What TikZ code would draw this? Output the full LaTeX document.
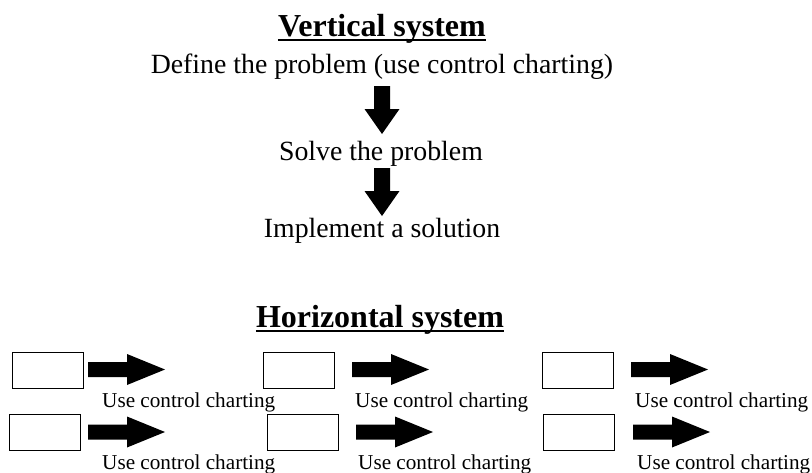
\documentclass[tikz,border=0pt]{standalone}
\usepackage{fontspec}
\setmainfont{Liberation Serif}
\newcommand\myvarrow[1]{\fill (#1) ++(-8,0) -- ++(16,0) -- ++(0,23) -- ++(9.5,0) -- ++(-17.5,25) -- ++(-17.5,-25) -- ++(9.5,0) -- cycle;}
\newcommand\myharrow[1]{\fill (#1) ++(0,-7.5) -- ++(39,0) -- ++(0,-8) -- ++(38,15.5) -- ++(-38,15.5) -- ++(0,-8) -- ++(-39,0) -- cycle;}
\begin{document}
\begin{tikzpicture}[x=1pt,y=-1pt,
  title/.style={font=\fontsize{32}{36}\selectfont\bfseries, inner sep=0pt, anchor=base},
  vtext/.style={font=\fontsize{27.8}{32}\selectfont, inner sep=0pt, anchor=base},
  htext/.style={font=\fontsize{21.2}{25}\selectfont, inner sep=0pt, anchor=base west},
  box/.style={draw=black, line width=1pt, minimum width=71pt, minimum height=36pt, inner sep=0pt, anchor=north west},
  uline/.style={line width=1.8pt}]
\useasboundingbox (0,0) rectangle (812,472);
% Vertical system
\node[title] (vt) at (382,36) {Vertical system};
\draw[uline] ([yshift=-4pt]vt.base west) -- ([yshift=-4pt]vt.base east);
\node[vtext] (def) at (382,73) {Define the problem (use control charting)};
\node[vtext] (sol) at (381,160) {Solve the problem};
\node[vtext] (imp) at (382,237) {Implement a solution};
\coordinate (va1) at (382,86);
\coordinate (va2) at (382,168);
\myvarrow{va1}
\myvarrow{va2}
% Horizontal system
\node[title] (ht) at (380,327) {Horizontal system};
\draw[uline] ([yshift=-4pt]ht.base west) -- ([yshift=-4pt]ht.base east);
% row 1
\node[box] (b11) at (12,352) {};
\node[box] (b12) at (263,352) {};
\node[box] (b13) at (542,352) {};
\coordinate (a11) at (88,369.5);
\coordinate (a12) at (352,369.5);
\coordinate (a13) at (631,369.5);
\myharrow{a11}
\myharrow{a12}
\myharrow{a13}
\node[htext] (t11) at (102,407) {Use control charting};
\node[htext] (t12) at (355,407) {Use control charting};
\node[htext] (t13) at (635,407) {Use control charting};
% row 2
\node[box] (b21) at (9,414) {};
\node[box] (b22) at (267,414) {};
\node[box] (b23) at (543,414) {};
\coordinate (a21) at (88,432);
\coordinate (a22) at (356,432);
\coordinate (a23) at (633,432);
\myharrow{a21}
\myharrow{a22}
\myharrow{a23}
\node[htext] (t21) at (102,469) {Use control charting};
\node[htext] (t22) at (358,469) {Use control charting};
\node[htext] (t23) at (637,469) {Use control charting};
\end{tikzpicture}
\end{document}
